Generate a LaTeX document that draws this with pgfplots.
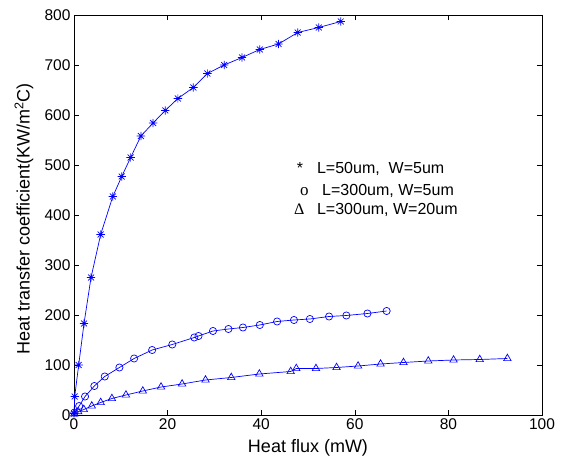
\documentclass[border=0pt]{standalone}
\usepackage{pgfplots}
\pgfplotsset{compat=1.18}
\usepackage{fontspec}
\setmainfont{Liberation Sans}
\newfontfamily\seriffont{Liberation Serif}

\pgfdeclareplotmark{mstar}{%
  \pgfpathmoveto{\pgfqpoint{-\pgfplotmarksize}{0pt}}%
  \pgfpathlineto{\pgfqpoint{\pgfplotmarksize}{0pt}}%
  \pgfpathmoveto{\pgfqpoint{0pt}{-\pgfplotmarksize}}%
  \pgfpathlineto{\pgfqpoint{0pt}{\pgfplotmarksize}}%
  \pgfpathmoveto{\pgfqpoint{-0.707\pgfplotmarksize}{-0.707\pgfplotmarksize}}%
  \pgfpathlineto{\pgfqpoint{0.707\pgfplotmarksize}{0.707\pgfplotmarksize}}%
  \pgfpathmoveto{\pgfqpoint{-0.707\pgfplotmarksize}{0.707\pgfplotmarksize}}%
  \pgfpathlineto{\pgfqpoint{0.707\pgfplotmarksize}{-0.707\pgfplotmarksize}}%
  \pgfusepathqstroke}

\begin{document}
\begin{tikzpicture}
\begin{axis}[
  scale only axis,
  width=468pt, height=400pt,
  xmin=0, xmax=100, ymin=0, ymax=800,
  xtick={0,20,...,100}, ytick={0,100,...,800},
  tick align=inside,
  major tick length=5pt,
  tick style={black, line width=0.6pt},
  axis line style={line width=0.8pt},
  /pgf/number format/assume math mode=true,
  font=\fontsize{16}{19}\selectfont,
  ticklabel style={font=\fontsize{15.5}{18}\selectfont},
  xlabel={Heat flux (mW)},
  ylabel={Heat transfer coefficient(KW/m\textsuperscript{2}C)},
  label style={font=\fontsize{18}{21}\selectfont},
  xlabel style={at={(axis description cs:0.5,-0.082)}, anchor=center},
  ylabel style={at={(axis description cs:-0.107,0.49)}, anchor=center},
]
\addplot[blue, line width=0.7pt, mark=mstar, mark size=4.2pt, mark options={solid, line width=0.7pt}] coordinates {
 (0.02,3) (0.15,37) (1.0,100) (2.14,183) (3.64,275) (5.7,361) (8.29,437) (10.2,477)
 (12.1,515) (14.3,558) (16.9,584) (19.5,609) (22.2,633) (25.5,655)
 (28.5,683) (32.1,700) (35.9,715) (39.7,731) (43.7,742) (47.8,765)
 (52.3,775) (57.0,787)
};
\addplot[blue, line width=0.7pt, mark=o, mark size=3.6pt, mark options={solid, line width=0.7pt, fill=none}] coordinates {
 (0.1,5) (1.1,18) (2.36,37) (4.35,58) (6.57,77) (9.7,95) (12.85,113)
 (16.7,130) (21.0,141) (25.7,155) (26.6,158) (29.7,168) (33.0,172)
 (36.1,175) (39.7,180) (43.4,187) (47.0,190) (50.4,192) (54.5,197)
 (58.2,199) (62.7,203) (66.8,208)
};
\addplot[blue, line width=0.7pt, mark=triangle, mark size=4.3pt, mark options={solid, line width=0.7pt, fill=none}] coordinates {
 (0.05,2) (0.9,6.6) (2.1,11) (3.8,18) (5.7,25) (8.1,33) (11.1,40)
 (14.7,48) (18.6,56) (23.1,62) (28.1,70) (33.6,75) (39.6,82)
 (46.3,87) (47.5,93) (51.7,93) (56.1,95) (60.7,98) (65.5,102)
 (70.4,105) (75.7,108) (81.1,110) (86.7,111) (92.6,113)
};
\node[anchor=base west, inner sep=0pt] at (axis cs:47.6,483) {*};
\node[anchor=base west, inner sep=0pt] at (axis cs:51.9,483) {L=50um,\ \ W=5um};
\node[anchor=base west, inner sep=0pt] at (axis cs:48.3,439) {\seriffont\fontsize{17}{19}\selectfont o};
\node[anchor=base west, inner sep=0pt] at (axis cs:53.0,439) {L=300um, W=5um};
\node[anchor=base west, inner sep=0pt] at (axis cs:47.0,401) {\seriffont Δ};
\node[anchor=base west, inner sep=0pt] at (axis cs:51.9,401) {L=300um, W=20um};
\end{axis}
\pgfresetboundingbox
\path[use as bounding box] (current axis.south west) ++(-74pt,-47pt) rectangle ([shift={(25pt,15pt)}]current axis.north east);
\end{tikzpicture}
\end{document}
